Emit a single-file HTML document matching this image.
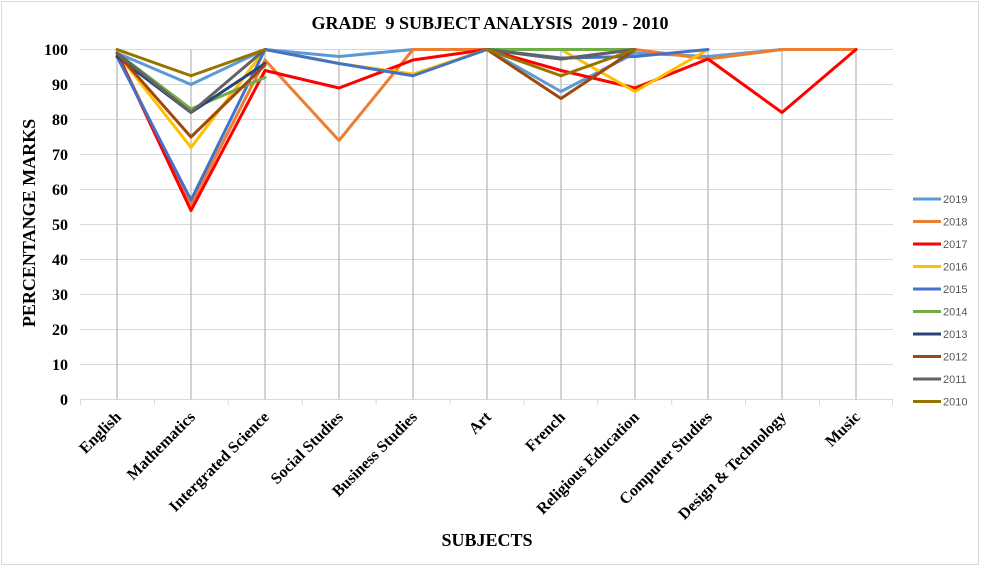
<!DOCTYPE html>
<html>
<head>
<meta charset="utf-8">
<style>
html,body{margin:0;padding:0;background:#fff;}
svg{display:block;}
.t{font-family:"Liberation Serif","Times New Roman",serif;font-weight:bold;fill:#000;}
.lg{font-family:"Liberation Sans",Arial,sans-serif;font-size:11px;fill:#595959;}
</style>
</head>
<body>
<svg width="981" height="567" viewBox="0 0 981 567" xmlns="http://www.w3.org/2000/svg">
<rect x="0" y="0" width="981" height="567" fill="#fff"/>
<rect x="1.5" y="1.5" width="977" height="563" fill="none" stroke="#d9d9d9" stroke-width="1"/>

<!-- title -->
<text class="t" x="490" y="29" font-size="18" text-anchor="middle" xml:space="preserve">GRADE  9 SUBJECT ANALYSIS  2019 - 2010</text>

<!-- horizontal gridlines -->
<g stroke="#d9d9d9" stroke-width="1">
<line x1="80" x2="893" y1="49.5" y2="49.5"/>
<line x1="80" x2="893" y1="84.5" y2="84.5"/>
<line x1="80" x2="893" y1="119.5" y2="119.5"/>
<line x1="80" x2="893" y1="154.5" y2="154.5"/>
<line x1="80" x2="893" y1="189.5" y2="189.5"/>
<line x1="80" x2="893" y1="224.5" y2="224.5"/>
<line x1="80" x2="893" y1="259.5" y2="259.5"/>
<line x1="80" x2="893" y1="294.5" y2="294.5"/>
<line x1="80" x2="893" y1="329.5" y2="329.5"/>
<line x1="80" x2="893" y1="364.5" y2="364.5"/>
<line x1="80" x2="893" y1="399.5" y2="399.5"/>
</g>
<!-- tick marks -->
<g stroke="#d9d9d9" stroke-width="1">
<line x1="80.5" x2="80.5" y1="399.5" y2="405"/>
<line x1="154.4" x2="154.4" y1="399.5" y2="405"/>
<line x1="228.3" x2="228.3" y1="399.5" y2="405"/>
<line x1="302.2" x2="302.2" y1="399.5" y2="405"/>
<line x1="376.1" x2="376.1" y1="399.5" y2="405"/>
<line x1="450" x2="450" y1="399.5" y2="405"/>
<line x1="523.9" x2="523.9" y1="399.5" y2="405"/>
<line x1="597.8" x2="597.8" y1="399.5" y2="405"/>
<line x1="671.7" x2="671.7" y1="399.5" y2="405"/>
<line x1="745.6" x2="745.6" y1="399.5" y2="405"/>
<line x1="819.5" x2="819.5" y1="399.5" y2="405"/>
<line x1="892.5" x2="892.5" y1="399.5" y2="405"/>
</g>
<!-- drop lines -->
<g stroke="#c4c4c4" stroke-width="1.5">
<line x1="117" x2="117" y1="49.5" y2="399.5"/>
<line x1="191" x2="191" y1="49.5" y2="399.5"/>
<line x1="265" x2="265" y1="49.5" y2="399.5"/>
<line x1="339" x2="339" y1="49.5" y2="399.5"/>
<line x1="413" x2="413" y1="49.5" y2="399.5"/>
<line x1="487" x2="487" y1="49.5" y2="399.5"/>
<line x1="561" x2="561" y1="49.5" y2="399.5"/>
<line x1="635" x2="635" y1="49.5" y2="399.5"/>
<line x1="708" x2="708" y1="49.5" y2="399.5"/>
<line x1="782" x2="782" y1="49.5" y2="399.5"/>
<line x1="856" x2="856" y1="49.5" y2="399.5"/>
</g>

<!-- y tick labels -->
<g class="t" font-size="16" text-anchor="end">
<text x="68" y="55">100</text>
<text x="68" y="90">90</text>
<text x="68" y="125">80</text>
<text x="68" y="160">70</text>
<text x="68" y="195">60</text>
<text x="68" y="230">50</text>
<text x="68" y="265">40</text>
<text x="68" y="300">30</text>
<text x="68" y="335">20</text>
<text x="68" y="370">10</text>
<text x="68" y="405">0</text>
</g>

<!-- y axis title -->
<text class="t" font-size="18" text-anchor="middle" transform="translate(35,223) rotate(-90)">PERCENTANGE MARKS</text>

<!-- x tick labels -->
<g class="t" font-size="16" text-anchor="end">
<text transform="translate(122,418) rotate(-45)">English</text>
<text transform="translate(196,418) rotate(-45)">Mathematics</text>
<text transform="translate(270,418) rotate(-45)">Intergrated Science</text>
<text transform="translate(344,418) rotate(-45)">Social Studies</text>
<text transform="translate(418,418) rotate(-45)">Business Studies</text>
<text transform="translate(492,418) rotate(-45)">Art</text>
<text transform="translate(566,418) rotate(-45)">French</text>
<text transform="translate(640,418) rotate(-45)">Religious Education</text>
<text transform="translate(713,418) rotate(-45)">Computer Studies</text>
<text transform="translate(787,418) rotate(-45)">Design &amp; Technology</text>
<text transform="translate(861,418) rotate(-45)">Music</text>
</g>

<!-- x axis title -->
<text class="t" x="487" y="546" font-size="18" text-anchor="middle">SUBJECTS</text>

<!-- series -->
<g fill="none" stroke-width="3" stroke-linejoin="round" stroke-linecap="round">
<polyline stroke="#5B9BD5" points="117,53 191,84.5 265,49.5 339,56.5 413,49.5 487,49.5 561,91.5 635,53 708,56.5 782,49.5 856,49.5"/>
<polyline stroke="#ED7D31" points="117,53 191,205 265,60 339,140.5 413,49.5 487,49.5 561,49.5 635,49.5 708,59 782,49.5 856,49.5"/>
<polyline stroke="#FF0000" points="117,53 191,210.5 265,70.5 339,88 413,60 487,49.5 561,70.5 635,88 708,59 782,112.5 856,49.5"/>
<polyline stroke="#FFC000" points="117,53 191,147.5 265,49.5 339,63.5 413,74 487,49.5 561,49.5 635,91.5 708,49.5"/>
<polyline stroke="#4472C4" points="117,56.5 191,200 265,49.5 339,63.5 413,75.75 487,49.5 561,58 635,56.5 708,49.5"/>
<polyline stroke="#70AD47" points="117,53 191,109 265,77.5"/>
<polyline stroke="#70AD47" points="487,49.5 561,49.5 635,49.5"/>
<polyline stroke="#264478" points="117,56.5 191,112.5 265,63.5"/>
<polyline stroke="#264478" points="487,49.5 561,59 635,49.5"/>
<polyline stroke="#9E480E" points="117,53 191,137 265,65"/>
<polyline stroke="#9E480E" points="487,49.5 561,98.5 635,49.5"/>
<polyline stroke="#636363" points="117,53 191,112.5 265,49.5"/>
<polyline stroke="#636363" points="487,49.5 561,59 635,49.5"/>
<polyline stroke="#997300" points="117,49.5 191,75.75 265,49.5"/>
<polyline stroke="#997300" points="487,49.5 561,75.75 635,49.5"/>
</g>

<!-- legend -->
<g stroke-width="3">
<line x1="913" x2="941" y1="199" y2="199" stroke="#5B9BD5"/>
<line x1="913" x2="941" y1="221.5" y2="221.5" stroke="#ED7D31"/>
<line x1="913" x2="941" y1="244" y2="244" stroke="#FF0000"/>
<line x1="913" x2="941" y1="266.5" y2="266.5" stroke="#FFC000"/>
<line x1="913" x2="941" y1="289" y2="289" stroke="#4472C4"/>
<line x1="913" x2="941" y1="311.5" y2="311.5" stroke="#70AD47"/>
<line x1="913" x2="941" y1="334" y2="334" stroke="#264478"/>
<line x1="913" x2="941" y1="356.5" y2="356.5" stroke="#9E480E"/>
<line x1="913" x2="941" y1="379" y2="379" stroke="#636363"/>
<line x1="913" x2="941" y1="401.5" y2="401.5" stroke="#997300"/>
</g>
<g class="lg">
<text x="943" y="203">2019</text>
<text x="943" y="225.5">2018</text>
<text x="943" y="248">2017</text>
<text x="943" y="270.5">2016</text>
<text x="943" y="293">2015</text>
<text x="943" y="315.5">2014</text>
<text x="943" y="338">2013</text>
<text x="943" y="360.5">2012</text>
<text x="943" y="383">2011</text>
<text x="943" y="405.5">2010</text>
</g>
</svg>
</body>
</html>
